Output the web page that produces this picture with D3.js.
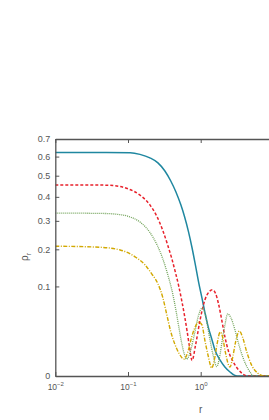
<!DOCTYPE html>
<html>
<head>
<meta charset="utf-8">
<script src="https://cdn.jsdelivr.net/npm/d3@7"></script>
<style>
body { margin: 0; background: #fff; }
text { font-family: "Liberation Sans", Arial, sans-serif; fill: #555; }
</style>
</head>
<body>
<svg id="chart" width="269" height="420"></svg>
<script>
// values
var yTicks = [0, 0.1, 0.2, 0.3, 0.4, 0.5, 0.6, 0.7];
var xTicks = [0.01, 0.1, 1];
var xTickExp = ["-2", "-1", "0"];

var rBlue = [0.01, 0.05, 0.107, 0.146, 0.2, 0.258, 0.32, 0.386, 0.455, 0.533, 0.6, 0.68, 0.76, 0.85, 0.94, 1.04, 1.14, 1.26, 1.42, 1.57, 1.84, 2.15, 2.53, 3.16, 10];
var vBlue = [0.622, 0.622, 0.621, 0.612, 0.593, 0.566, 0.525, 0.475, 0.423, 0.365, 0.316, 0.259, 0.205, 0.151, 0.108, 0.076, 0.051, 0.031, 0.0171, 0.0084, 0.0032, 0.001, 0.0002, 0, 0];

var rRed = [0.01, 0.05, 0.07, 0.1, 0.15, 0.2, 0.25, 0.3, 0.35, 0.4, 0.45, 0.5, 0.55, 0.6, 0.65, 0.7, 0.76, 0.85, 0.98, 1.14, 1.3, 1.45, 1.6, 1.75, 2.0, 2.15, 2.4, 2.8, 3.3, 4.5, 10];
var vRed = [0.455, 0.454, 0.45, 0.437, 0.405, 0.365, 0.317, 0.265, 0.215, 0.172, 0.133, 0.1, 0.07, 0.045, 0.025, 0.011, 0.003, 0.012, 0.039, 0.072, 0.088, 0.0925, 0.085, 0.066, 0.033, 0.0193, 0.008, 0.0025, 0.0005, 0, 0];

var rGreen = [0.01, 0.05, 0.07, 0.1, 0.15, 0.2, 0.25, 0.3, 0.35, 0.4, 0.45, 0.5, 0.55, 0.6, 0.64, 0.73, 0.82, 0.93, 1.05, 1.16, 1.32, 1.48, 1.66, 1.84, 1.98, 2.15, 2.35, 2.61, 2.97, 3.36, 3.84, 4.5, 5.5, 10];
var vGreen = [0.331, 0.329, 0.326, 0.318, 0.293, 0.257, 0.215, 0.172, 0.13, 0.093, 0.058, 0.03, 0.013, 0.0055, 0.0035, 0.0084, 0.022, 0.045, 0.0577, 0.0465, 0.019, 0.0055, 0.0011, 0.0055, 0.016, 0.032, 0.048, 0.042, 0.026, 0.012, 0.004, 0.0006, 0, 0];

var rYellow = [0.01, 0.041, 0.078, 0.125, 0.171, 0.212, 0.258, 0.302, 0.34, 0.386, 0.44, 0.5, 0.59, 0.665, 0.752, 0.83, 0.94, 1.04, 1.14, 1.26, 1.42, 1.54, 1.67, 1.85, 2.0, 2.18, 2.53, 2.76, 3.02, 3.4, 3.8, 4.3, 5.1, 6.1, 7.5, 10];
var vYellow = [0.21, 0.2065, 0.198, 0.177, 0.154, 0.13, 0.106, 0.076, 0.048, 0.025, 0.0128, 0.0066, 0.0036, 0.0072, 0.019, 0.029, 0.0364, 0.0325, 0.016, 0.0055, 0.0008, 0.0032, 0.012, 0.024, 0.019, 0.0072, 0.001, 0.0045, 0.0144, 0.0253, 0.018, 0.0072, 0.0012, 0.0001, 0, 0];

var series = [
  {r: rBlue, v: vBlue, color: "#1f87a0", dash: null, width: 1.5},
  {r: rRed, v: vRed, color: "#e8222c", dash: "3,2", width: 1.5},
  {r: rGreen, v: vGreen, color: "#72a35a", dash: "1,1", width: 1.3},
  {r: rYellow, v: vYellow, color: "#d2a800", dash: "4,1.5,1,1.5", width: 1.4}
];

var svg = d3.select("#chart");
var plotLeft = 55.3, plotRight = 273.4, plotTop = 139, plotBottom = 376;

var x = d3.scaleLog().domain([0.01, 10]).range([plotLeft, plotRight]);
var y = d3.scaleSqrt().domain([0, 0.7]).range([plotBottom, plotTop]);

svg.append("clipPath").attr("id", "plotclip")
  .append("rect").attr("x", plotLeft).attr("y", plotTop)
  .attr("width", plotRight - plotLeft).attr("height", plotBottom - plotTop);

var line = d3.line()
  .x(function(d) { return x(d[0]); })
  .y(function(d) { return y(d[1]); })
  .curve(d3.curveMonotoneX);

var g = svg.append("g").attr("clip-path", "url(#plotclip)");
series.forEach(function(s) {
  var pts = s.r.map(function(r, i) { return [r, s.v[i]]; });
  g.append("path")
    .attr("d", line(pts))
    .attr("fill", "none")
    .attr("stroke", s.color)
    .attr("stroke-width", s.width)
    .attr("stroke-dasharray", s.dash);
});

// axes
var axisColor = "#555";
var yAxis = svg.append("g").attr("transform", "translate(" + plotLeft + ",0)")
  .call(d3.axisLeft(y).tickValues(yTicks).tickSizeInner(-4).tickSizeOuter(0).tickPadding(5)
    .tickFormat(function(d) { return d === 0 ? "0" : d3.format(".1f")(d); }));
yAxis.selectAll("text").style("font-size", "9px").attr("fill", "#555");

var xAxis = svg.append("g").attr("transform", "translate(0," + plotBottom + ")")
  .call(d3.axisBottom(x).tickValues(xTicks).tickSizeInner(-4).tickSizeOuter(0).tickFormat(""));
xAxis.selectAll(".tick").each(function(d, i) {
  var t = d3.select(this).append("text").attr("y", 14).attr("text-anchor", "middle")
    .style("font-size", "8.5px");
  t.append("tspan").text("10");
  t.append("tspan").attr("dy", -4).style("font-size", "6px").text(xTickExp[i].replace("-", "\u2212"));
});

var topAxis = svg.append("g").attr("transform", "translate(0," + plotTop + ")")
  .call(d3.axisTop(x).tickValues(xTicks).tickSizeInner(-4).tickSizeOuter(0).tickFormat(""));

[yAxis, xAxis, topAxis].forEach(function(a) {
  a.select(".domain").attr("stroke", axisColor).attr("stroke-width", 1.3);
  a.selectAll(".tick line").attr("stroke", axisColor).attr("stroke-width", 1);
});

// axis titles
svg.append("text").attr("x", x(1)).attr("y", 413).attr("text-anchor", "middle")
  .style("font-size", "10px").text("r");

var yl = svg.append("text").attr("transform", "translate(28,257) rotate(-90)")
  .attr("text-anchor", "middle").style("font-size", "10px");
yl.append("tspan").text("\u03c1");
yl.append("tspan").attr("dy", 2.5).style("font-size", "7px").text("r");
</script>
</body>
</html>
